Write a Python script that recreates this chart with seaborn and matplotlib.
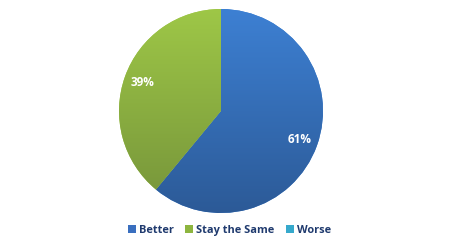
import numpy as np
import matplotlib
matplotlib.use("Agg")
import matplotlib.pyplot as plt
import seaborn as sns
from matplotlib.colors import LinearSegmentedColormap
from matplotlib.lines import Line2D

categories = ["Better", "Stay the Same", "Worse"]
values = [61, 39, 0]
labels_pct = ["61%", "39%", ""]
top_colors = ["#3d80d3", "#9ec747", "#3aaed2"]
bottom_colors = ["#2c5a97", "#75933a", "#2a86a8"]
legend_colors = ["#3a6fbf", "#8db53f", "#36a9cc"]

sns.set_theme(style="white")
plt.rcParams['font.family'] = ['Open Sans', 'DejaVu Sans']

fig = plt.figure(figsize=(4.75, 2.5), dpi=100)
fig.patch.set_facecolor("white")
ax = fig.add_axes([(221 - 102) / 475, (250 - 213) / 250, 204 / 475, 204 / 250])

wedges, texts, autotexts = ax.pie(
    values, startangle=90, counterclock=False, colors=top_colors,
    labels=None, autopct=lambda p: "", pctdistance=0.82,
    wedgeprops=dict(linewidth=0))
ax.set_xlim(-1, 1)
ax.set_ylim(-1, 1)
ax.set_aspect("equal")
ax.axis("off")

grad = np.linspace(1, 0, 256).reshape(-1, 1)
for w, tc, bc in zip(wedges, top_colors, bottom_colors):
    cmap = LinearSegmentedColormap.from_list("g", [bc, tc])
    im = ax.imshow(grad, extent=[-1, 1, -1, 1], cmap=cmap, aspect="auto",
                   origin="upper", zorder=w.get_zorder() + 0.1)
    im.set_clip_path(w)

for at, lab in zip(autotexts, labels_pct):
    at.set_text(lab)
    at.set_color("white")
    at.set_fontweight("bold")
    at.set_fontsize(8.5)
    at.set_zorder(5)

handles = [Line2D([0], [0], marker="s", linestyle="none", markersize=5.5,
                  markerfacecolor=c, markeredgewidth=0) for c in legend_colors]
leg = fig.legend(handles, categories, loc="center", bbox_to_anchor=(0.484, 0.078),
                 ncol=3, frameon=False, handlelength=0.6, handletextpad=0.35,
                 columnspacing=1.1, prop=dict(weight="bold", size=7.9))
for t in leg.get_texts():
    t.set_color("#1f3a6e")

fig.savefig("out.png", dpi=100, facecolor="white")
